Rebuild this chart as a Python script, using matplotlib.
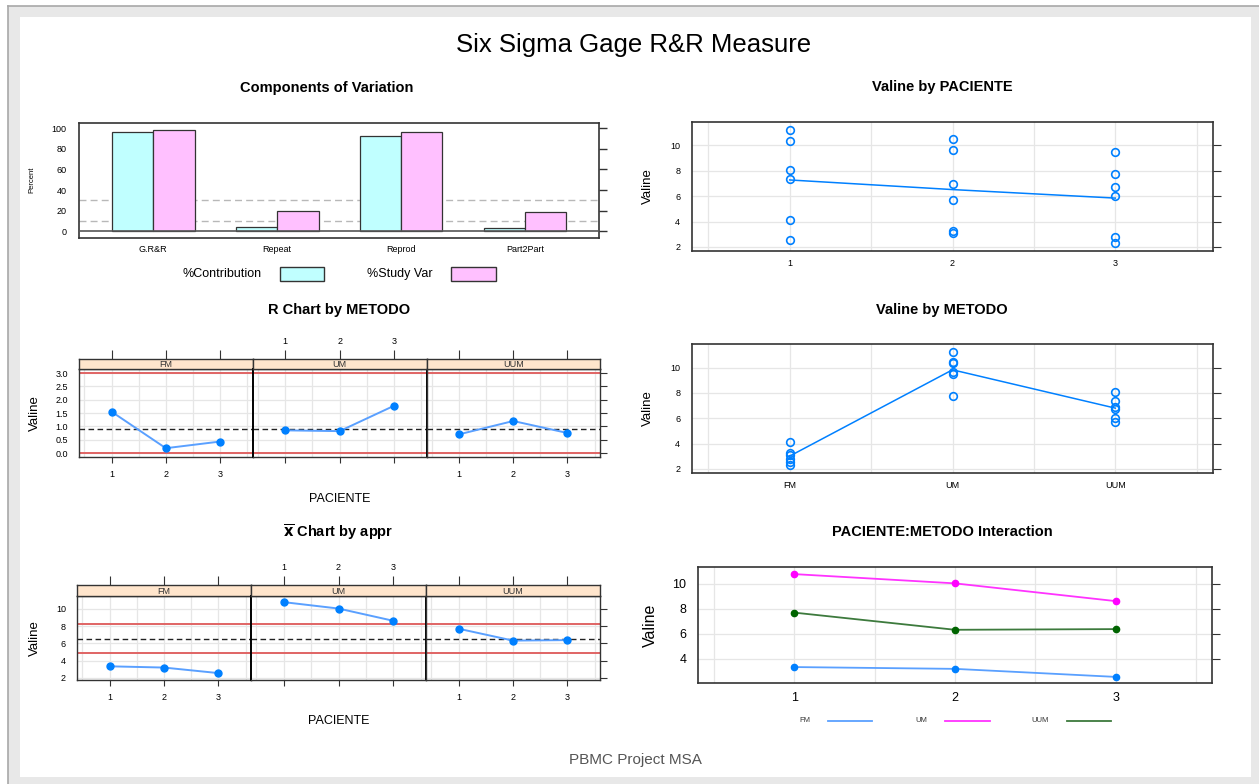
import numpy as np
import matplotlib
matplotlib.use('Agg')
import matplotlib.pyplot as plt
from matplotlib.patches import Rectangle
from matplotlib.lines import Line2D

plt.rcParams['font.family'] = ['Liberation Sans', 'DejaVu Sans']

# --- data ---
comp_labels = ["G.R&R", "Repeat", "Reprod", "Part2Part"]
pct_contribution = [96.5, 3.9, 92.6, 3.5]
pct_study_var = [98.2, 19.8, 96.2, 18.6]

pacientes = [1, 2, 3]
metodos = ["FM", "UM", "UUM"]
# two readings per PACIENTE (rows) for each METODO
fm_obs = [[4.10, 2.55], [3.27, 3.09], [2.75, 2.32]]
um_obs = [[11.22, 10.37], [10.46, 9.64], [9.51, 7.74]]
uum_obs = [[8.05, 7.35], [6.92, 5.72], [6.75, 6.00]]

D4 = 3.267   # n = 2
A2 = 1.880

obs = np.array([fm_obs, um_obs, uum_obs])      # metodo x paciente x rep
cell_mean = obs.mean(axis=2)
cell_range = obs.max(axis=2) - obs.min(axis=2)
r_bar = cell_range.mean()
grand = obs.mean()

W, H = 1259, 784
fig = plt.figure(figsize=(W / 100, H / 100), dpi=100)


def box(l, t, r, b):
    return fig.add_axes([l / W, 1 - b / H, (r - l) / W, (b - t) / H])


def fx(x):
    return x / W


def fy(y):
    return 1 - y / H


# page frame
fig.patches.append(Rectangle((fx(8), 0), 1 - fx(8), fy(6), transform=fig.transFigure,
                             facecolor='#e8e8e8', edgecolor='none', zorder=-10))
fig.patches.append(Rectangle((fx(20), fy(777)), fx(1251) - fx(20), fy(17) - fy(777),
                             transform=fig.transFigure, facecolor='white', edgecolor='none', zorder=-9))
fig.lines.append(Line2D([fx(8), 1], [fy(6), fy(6)], transform=fig.transFigure, color='#a8a8a8', lw=1.2))
fig.lines.append(Line2D([fx(8), fx(8)], [fy(6), 0], transform=fig.transFigure, color='#a8a8a8', lw=1.2))

fig.text(fx(634), fy(45), "Six Sigma Gage R&R Measure", ha='center', va='center', fontsize=18.5)
fig.text(fx(635), fy(760), "PBMC Project MSA", ha='center', va='center', fontsize=11, color='#555555')

BLUE = '#0080ff'
GRIDC = '#e6e6e6'
REDC = '#e06464'
STRIP = '#ffe5cc'
TSIZE = 10.5


def frame(ax, lw=1.0):
    for s in ax.spines.values():
        s.set_color('#333333')
        s.set_linewidth(lw)


def grid(ax, xs, ys):
    for v in xs:
        ax.axvline(v, color=GRIDC, lw=0.9, zorder=0)
    for v in ys:
        ax.axhline(v, color=GRIDC, lw=0.9, zorder=0)


# --- Components of Variation ---
ax = box(78.5, 122.7, 599, 238.3)
frame(ax, 1.2)
left = np.arange(len(comp_labels)) * 3 + 1
ax.axhline(10, color='#b8b8b8', lw=1, ls=(0, (5, 3)), zorder=0)
ax.axhline(30, color='#b8b8b8', lw=1, ls=(0, (5, 3)), zorder=0)
ax.bar(left + 0.5, pct_contribution, width=1, color='#c0ffff', edgecolor='#333333', lw=0.9, zorder=2)
ax.bar(left + 1.5, pct_study_var, width=1, color='#ffc0ff', edgecolor='#333333', lw=0.9, zorder=2)
ax.axhline(0, color='#555555', lw=1.2, zorder=3)
ax.set_xlim(0.19, 12.79)
ax.set_ylim(-6.8, 105.4)
ax.set_yticks(range(0, 101, 20))
ax.set_xticks(left + 1)
ax.set_xticklabels(comp_labels)
ax.tick_params(axis='y', left=False, right=True, labelleft=True, length=6, pad=2.5,
               labelsize=6.5, color='#333333', width=1)
ax.tick_params(axis='x', length=0, pad=5, labelsize=6.5)
fig.text(fx(327), fy(88), "Components of Variation", ha='center', va='center', fontsize=TSIZE, fontweight='bold')
fig.text(fx(32), fy(180), "Percent", ha='center', va='center', fontsize=5.5, rotation=90)
# legend
fig.text(fx(222), fy(274), "%Contribution", ha='center', va='center', fontsize=9)
fig.patches.append(Rectangle((fx(280), fy(281)), fx(324) - fx(280), fy(267) - fy(281), transform=fig.transFigure,
                             facecolor='#c0ffff', edgecolor='#333333', lw=1))
fig.text(fx(400), fy(274), "%Study Var", ha='center', va='center', fontsize=9)
fig.patches.append(Rectangle((fx(451), fy(281)), fx(496) - fx(451), fy(267) - fy(281), transform=fig.transFigure,
                             facecolor='#ffc0ff', edgecolor='#333333', lw=1))


def scatter_panel(t, b, title, ty, xlabels, groups):
    ax = box(692, t, 1213, b)
    frame(ax, 1.2)
    grid(ax, np.arange(0.5, 3.6, 0.5), range(2, 11, 2))
    for i, g in enumerate(groups):
        ax.plot(np.full(len(g), i + 1), g, 'o', mfc='none', mec=BLUE, ms=5.5, mew=1.2, zorder=3)
    ax.plot(range(1, 4), [np.mean(g) for g in groups], color=BLUE, lw=1.1, zorder=2)
    ax.set_xlim(0.4, 3.6)
    ax.set_ylim(1.68, 11.86)
    ax.set_xticks(range(1, 4))
    ax.set_xticklabels(xlabels)
    ax.set_yticks(range(2, 11, 2))
    ax.tick_params(axis='y', left=False, right=True, length=6, pad=2.5, labelsize=6.5, color='#333333')
    ax.tick_params(axis='x', length=0, pad=6, labelsize=6.5)
    fig.text(fx(942), fy(ty), title, ha='center', va='center', fontsize=TSIZE, fontweight='bold')
    fig.text(fx(648), fy((t + b) / 2), "Valine", ha='center', va='center', fontsize=9.5, rotation=90)


by_pac = [obs[:, p, :].ravel() for p in range(3)]
by_met = [obs[m, :, :].ravel() for m in range(3)]
scatter_panel(121.7, 251, "Valine by PACIENTE", 87, [str(p) for p in pacientes], by_pac)
scatter_panel(344, 473, "Valine by METODO", 310, metodos, by_met)


def control_panels(values, strip_t, t, b, edges, ylim, yticks, fmt, center, lims, title, ty):
    for i in range(3):
        l, r = edges[i], edges[i + 1]
        ax = box(l, t, r, b)
        frame(ax, 1.0)
        grid(ax, np.arange(0.5, 3.6, 0.5), yticks)
        for lim in lims:
            ax.axhline(lim, color=REDC, lw=1.4, zorder=2)
        ax.axhline(center, color='#222222', lw=1, ls=(0, (4, 2.5)), zorder=2)
        ax.plot(pacientes, values[i], color='#5aa0ff', lw=1.4, zorder=3)
        ax.plot(pacientes, values[i], 'o', color=BLUE, ms=5, zorder=4)
        ax.set_xlim(0.4, 3.6)
        ax.set_ylim(*ylim)
        ax.set_xticks(pacientes)
        ax.set_yticks(yticks)
        ax.set_yticklabels([fmt % v for v in yticks])
        ax.tick_params(axis='x', bottom=True, labelbottom=(i != 1), length=4.5, pad=5,
                       labelsize=6.5, color='#333333')
        ax.tick_params(axis='y', left=False, right=(i == 2), labelleft=(i == 0), length=5, pad=3,
                       labelsize=6.5, color='#333333')
        if i == 1:
            ax.spines['left'].set_color('black')
            ax.spines['right'].set_color('black')
            ax.spines['left'].set_linewidth(1.4)
            ax.spines['right'].set_linewidth(1.4)
        st = box(l, strip_t, r, t)
        st.set_facecolor(STRIP)
        frame(st, 1.0)
        st.set_xlim(0.4, 3.6)
        st.set_ylim(0, 1)
        st.set_yticks([])
        st.set_xticks(pacientes)
        st.xaxis.set_ticks_position('top')
        st.tick_params(axis='x', top=True, bottom=False, labeltop=(i == 1), labelbottom=False,
                       length=6.5, pad=3, labelsize=6.5, color='#333333')
        st.text(2, 0.45, metodos[i], ha='center', va='center', fontsize=6.5, color='#333333')
    mid = (edges[0] + edges[-1]) / 2
    fig.text(fx(mid), fy(ty), title, ha='center', va='center', fontsize=TSIZE, fontweight='bold')
    fig.text(fx(mid), fy(b + 42), "PACIENTE", ha='center', va='center', fontsize=9)
    fig.text(fx(35), fy((t + b) / 2), "Valine", ha='center', va='center', fontsize=9.5, rotation=90)


control_panels(cell_range, 359, 369.3, 457, [79, 252.7, 426.5, 600], (-0.15, 3.14),
               np.arange(0, 3.01, 0.5), '%.1f', r_bar, [0, D4 * r_bar],
               "R Chart by METODO", 310)
control_panels(cell_mean, 585, 596, 679.5, [77, 251, 426, 600], (1.79, 11.51),
               [2, 4, 6, 8, 10], '%d', grand, [grand - A2 * r_bar, grand + A2 * r_bar],
               r"$\mathbf{\overline{x}}$ Chart by appr", 532)

# --- interaction ---
ax = box(698, 566.7, 1212, 683.3)
frame(ax, 1.2)
grid(ax, np.arange(0.5, 3.6, 0.5), [4, 6, 8, 10])
icolors = ['#0080ff', '#ff00ff', '#006400']
ilines = ['#5aa0ff', '#ff33ff', '#3d7a3d']
for i in range(3):
    ax.plot(pacientes, cell_mean[i], color=ilines[i], lw=1.3, zorder=2)
    ax.plot(pacientes, cell_mean[i], 'o', color=icolors[i], ms=4.5, zorder=3)
ax.set_xlim(0.4, 3.6)
ax.set_ylim(2.02, 11.39)
ax.set_xticks(pacientes)
ax.set_yticks([4, 6, 8, 10])
ax.tick_params(axis='y', left=False, right=True, length=6, pad=2.5, labelsize=9, color='#333333')
ax.tick_params(axis='x', length=0, pad=6, labelsize=9)
fig.text(fx(942), fy(532), "PACIENTE:METODO Interaction", ha='center', va='center', fontsize=TSIZE,
         fontweight='bold')
fig.text(fx(650), fy(625), "Valine", ha='center', va='center', fontsize=11.5, rotation=90)
for i, (tx, l0, l1) in enumerate([(805, 828, 872), (921, 945, 990), (1040, 1067, 1111)]):
    fig.text(fx(tx), fy(721), metodos[i], ha='center', va='center', fontsize=5.5, color='#333333')
    fig.lines.append(Line2D([fx(l0), fx(l1)], [fy(721), fy(721)], transform=fig.transFigure,
                            color=ilines[i], lw=1.3))

fig.savefig('out.png', dpi=100)
